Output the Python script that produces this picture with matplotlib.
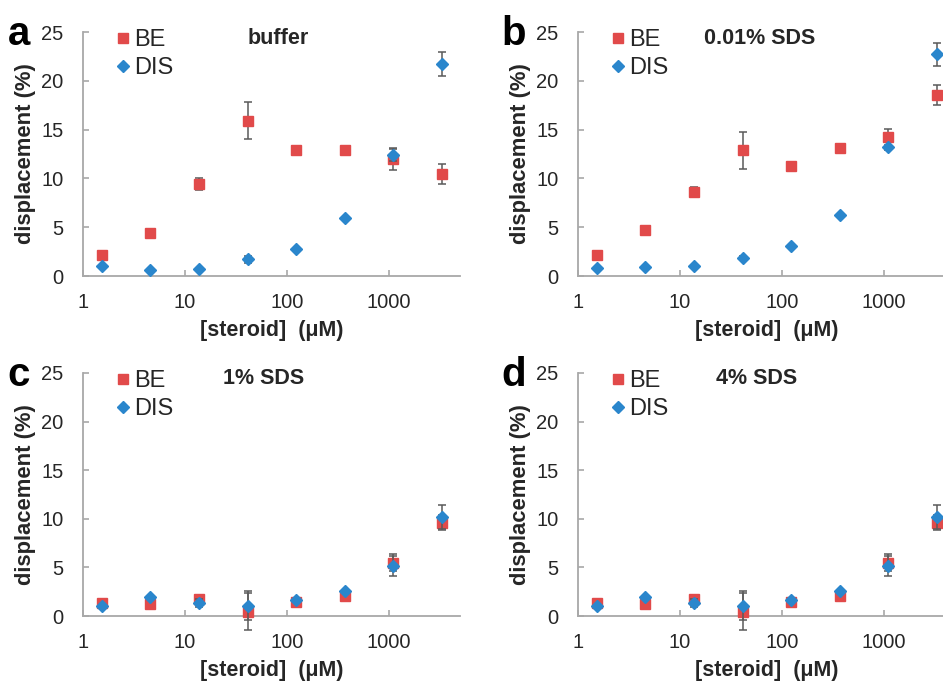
import numpy as np
import matplotlib
matplotlib.use("Agg")
import matplotlib.pyplot as plt
from matplotlib.ticker import FixedLocator, FixedFormatter, NullLocator

plt.rcParams['font.family'] = ['Liberation Sans', 'DejaVu Sans']

conc = [1.52, 4.57, 13.7, 41.2, 123, 370, 1111, 3333]

panel_letters = ['a', 'b', 'c', 'd']
panel_titles = ['buffer', '0.01% SDS', '1% SDS', '4% SDS']

be_a = [2.15, 4.45, 9.4, 15.9, 12.96, 12.86, 11.97, 10.43]
be_a_err = [0.2, 0.3, 0.6, 1.9, 0.2, 0.2, 1.1, 1.0]
dis_a = [1.03, 0.62, 0.75, 1.7, 2.77, 5.98, 12.4, 21.7]
dis_a_err = [0.1, 0.1, 0.1, 0.35, 0.1, 0.1, 0.65, 1.2]

be_b = [2.15, 4.7, 8.6, 12.86, 11.3, 13.1, 14.2, 18.57]
be_b_err = [0.2, 0.3, 0.5, 1.85, 0.2, 0.2, 0.9, 1.0]
dis_b = [0.85, 0.96, 1.06, 1.81, 3.08, 6.26, 13.17, 22.7]
dis_b_err = [0.1, 0.1, 0.1, 0.2, 0.1, 0.1, 0.3, 1.15]

be_c = [1.3, 1.2, 1.7, 0.45, 1.4, 2.1, 5.5, 9.6]
be_c_err = [0.2, 0.2, 0.3, 1.9, 0.2, 0.2, 0.9, 0.8]
dis_c = [1.06, 1.92, 1.37, 1.06, 1.65, 2.6, 5.15, 10.2]
dis_c_err = [0.1, 0.1, 0.4, 1.5, 0.1, 0.1, 1.0, 1.2]

be_d = [1.3, 1.2, 1.7, 0.45, 1.4, 2.1, 5.5, 9.6]
be_d_err = [0.2, 0.2, 0.3, 1.9, 0.2, 0.2, 0.9, 0.8]
dis_d = [1.06, 1.92, 1.37, 1.06, 1.65, 2.6, 5.15, 10.2]
dis_d_err = [0.1, 0.1, 0.4, 1.5, 0.1, 0.1, 1.0, 1.2]

be_all = [(be_a, be_a_err), (be_b, be_b_err), (be_c, be_c_err), (be_d, be_d_err)]
dis_all = [(dis_a, dis_a_err), (dis_b, dis_b_err), (dis_c, dis_c_err), (dis_d, dis_d_err)]

y_ticks = [0, 5, 10, 15, 20, 25]
x_ticks = [1, 10, 100, 1000]
x_tick_labels = ['1', '10', '100', '1000']

RED = '#E14A4A'
BLUE = '#2A86CC'
GREY = '#A8A8A8'
ERR = '#5A5A5A'
TXT = '#262626'

W, H = 943, 690
fig = plt.figure(figsize=(W / 100, H / 100), dpi=100)

# axes rectangles in pixels: left, y of top(25), y of bottom(0)
rects = [(83, 32, 276), (578, 32, 276), (83, 373, 616), (578, 373, 616)]
ax_w = 377

for i, (l, t, b) in enumerate(rects):
    ax = fig.add_axes([l / W, 1 - b / H, ax_w / W, (b - t) / H])
    ax.set_xscale('log')
    ax.set_xlim(1, 10 ** 3.70)
    ax.set_ylim(0, 25)
    for s in ['top', 'right']:
        ax.spines[s].set_visible(False)
    for s in ['left', 'bottom']:
        ax.spines[s].set_color(GREY)
        ax.spines[s].set_linewidth(1.3)
    ax.xaxis.set_major_locator(FixedLocator(x_ticks))
    ax.xaxis.set_major_formatter(FixedFormatter(x_tick_labels))
    ax.xaxis.set_minor_locator(NullLocator())
    ax.yaxis.set_major_locator(FixedLocator(y_ticks))
    ax.tick_params(axis='both', direction='in', color=GREY, width=1.2, length=4,
                   labelsize=14.5, labelcolor=TXT)
    ax.tick_params(axis='y', pad=14)
    ax.tick_params(axis='x', pad=12)

    be, be_err = be_all[i]
    dis, dis_err = dis_all[i]
    h1 = ax.errorbar(conc, be, yerr=be_err, fmt='s', ms=7.5, color=RED, mec=RED,
                     ecolor=ERR, elinewidth=1.1, capsize=3, capthick=1.1,
                     clip_on=False, zorder=3)
    h2 = ax.errorbar(conc, dis, yerr=dis_err, fmt='D', ms=6.5, color=BLUE, mec=BLUE,
                     ecolor=ERR, elinewidth=1.1, capsize=3, capthick=1.1,
                     clip_on=False, zorder=4)
    ax.legend([h1[0], h2[0]], ['BE', 'DIS'], loc='upper left',
              bbox_to_anchor=(0.055, 1.06), frameon=False, fontsize=17,
              handlelength=0.6, handletextpad=0.2, labelspacing=0.25,
              borderpad=0.0, labelcolor=TXT, markerscale=0.9)
    ax.set_ylabel('displacement (%)', fontsize=15.8, fontweight='bold', color=TXT,
                  labelpad=4)
    ax.set_xlabel('[steroid]  (μM)', fontsize=15.5, fontweight='bold', color=TXT,
                  labelpad=6)
    title_x = [278, 760, 264, 757][i]
    ax.text((title_x - l) / ax_w, 1 - (38 - 32) / (b - t) if i < 2 else 1 - (379 - 373) / (b - t),
            panel_titles[i], transform=ax.transAxes, ha='center', va='center',
            fontsize=15.5, fontweight='bold', color=TXT)
    fig.text((l - 64) / W, 1 - (t + 2) / H, panel_letters[i], ha='center', va='center',
             fontsize=29, fontweight='bold', color='black')

fig.savefig('out.png', dpi=100)
